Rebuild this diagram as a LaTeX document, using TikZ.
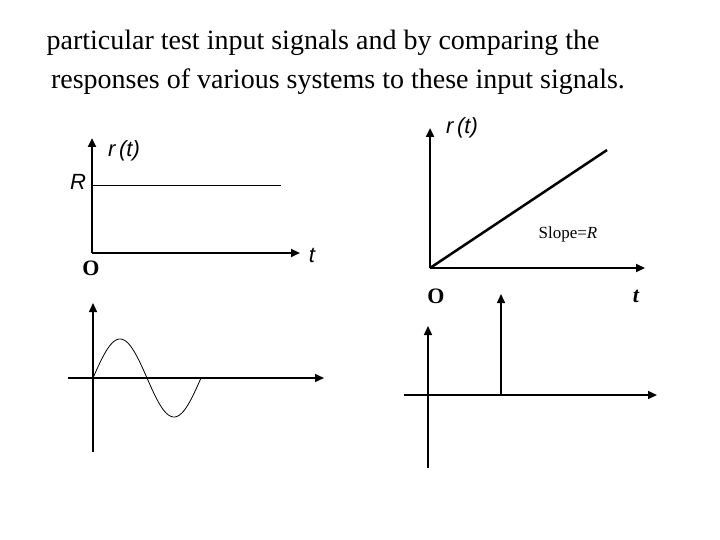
\documentclass[tikz,border=0pt]{standalone}
\usepackage{fontspec}
\setmainfont{Liberation Serif}
\newfontfamily\sansf{Liberation Sans}
\usetikzlibrary{arrows.meta}
\begin{document}
\begin{tikzpicture}[x=1pt,y=-1pt,
  ax/.style={line width=2.5pt,-{Triangle[length=9pt,width=8pt]}},
  axt/.style={line width=1.5pt,-{Triangle[length=9pt,width=8pt]}},
  lab/.style={font=\sansf\itshape\fontsize{22}{22}\selectfont,inner sep=0},
  orig/.style={font=\bfseries\fontsize{22}{22}\selectfont,inner sep=0}]
\useasboundingbox (0,0) rectangle (720,540);
\node[font=\fontsize{28}{28}\selectfont] (l1) at (323,43) {particular test input signals and by comparing the};
\node[font=\fontsize{28}{28}\selectfont] (l2) at (338,82) {responses of various systems to these input signals.};
% step
\coordinate (s0) at (92,253);
\coordinate (sy) at (92,138);
\coordinate (sx) at (300,253);
\draw[ax] (s0) -- (sy);
\draw[ax] (s0) -- (sx);
\coordinate (ra) at (92,185); \coordinate (rb) at (281,185);
\draw[line width=0.6pt] (ra) -- (rb);
\node[lab] (srt) at (124,151) {r\,(t)};
\node[lab] (sR) at (78,182) {R};
\node[orig] (sO) at (91,268) {O};
\node[lab] (st) at (312,255) {t};
% ramp
\coordinate (r0) at (430,268);
\coordinate (ry) at (430,128);
\coordinate (rx) at (645,268);
\coordinate (re) at (607,150);
\draw[ax] (r0) -- (ry);
\draw[ax] (r0) -- (rx);
\draw[line width=2.5pt] (r0) -- (re);
\node[lab] (rrt) at (462,128) {r\,(t)};
\node[font=\fontsize{17}{17}\selectfont] (sl) at (568,234) {Slope=\textit{R}};
\node[orig] (rO) at (436,296) {O};
\node[orig,font=\bfseries\itshape\fontsize{22}{22}\selectfont] (rt) at (636,296) {t};
% sine
\coordinate (w0) at (93,452); \coordinate (wy) at (93,303);
\coordinate (h0) at (68,378); \coordinate (hx) at (324,378);
\draw[axt] (w0) -- (wy);
\draw[axt] (h0) -- (hx);
\draw[line width=0.8pt,domain=0:108,samples=80,variable=\t] plot ({93+\t},{378-39*sin(3.3333*\t)});
% impulse
\coordinate (i0) at (428,468); \coordinate (iy) at (428,326);
\coordinate (j0) at (404,395); \coordinate (jx) at (657,395);
\coordinate (p0) at (501,395); \coordinate (py) at (501,294);
\draw[axt] (i0) -- (iy);
\draw[axt] (j0) -- (jx);
\draw[axt] (p0) -- (py);
\end{tikzpicture}
\end{document}
